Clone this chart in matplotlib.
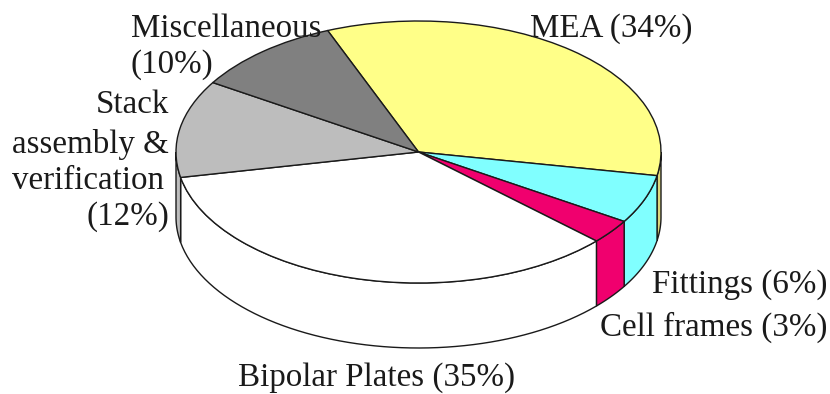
#!/usr/bin/env python3
"""Fuel cell stack cost breakdown, drawn as a tilted 3D pie."""

import matplotlib
matplotlib.use("Agg")
import matplotlib.pyplot as plt
import numpy as np

plt.rcParams["font.family"] = ["Liberation Serif", "DejaVu Serif"]

slices = ["MEA", "Fittings", "Cell frames", "Bipolar Plates", "Stack", "Miscellaneous"]
shares = [34, 6, 3, 35, 12, 10]
top_colors = ["#FFFF88", "#80FFFF", "#F0006E", "#FFFFFF", "#BDBDBD", "#808080"]
wall_colors = ["#DDD77C", "#80FFFF", "#F0006E", "#FFFFFF", "#BDBDBD", "#808080"]

W, H = 830, 394
CX, CY = 418.5, 152
RX, RY = 242.5, 131
DEPTH = 65 / RY
START = 112.0

fig = plt.figure(figsize=(W / 100, H / 100), dpi=100)
ax = fig.add_axes([0, 0, 1, 1])

# side walls first, only the part of each slice on the front half shows
ends = START - np.cumsum(shares) * 3.6
starts = np.r_[START, ends[:-1]]
for a0, a1, c in zip(starts, ends, wall_colors):
    hi = min(a0, 0) if a0 > -180 else a0
    lo = max(a1, -180)
    if hi <= lo:
        continue
    t = np.radians(np.linspace(hi, lo, 60))
    x = np.cos(t)
    y = np.sin(t)
    ax.fill(np.r_[x, x[::-1]], np.r_[y, y[::-1] - DEPTH],
            facecolor=c, edgecolor="#1a1a1a", linewidth=1.0, zorder=1)

ax.pie(shares, colors=top_colors, startangle=START, counterclock=False, radius=1,
       wedgeprops={"edgecolor": "#1a1a1a", "linewidth": 1.0, "zorder": 2})

ax.set_aspect("auto")
ax.set_xlim(-CX / RX, (W - CX) / RX)
ax.set_ylim((CY - H) / RY, CY / RY)
ax.axis("off")

labels = [
    ("MEA (34%)", 530, 29, "left"),
    ("Miscellaneous", 131, 29, "left"),
    ("(10%)", 131, 65, "left"),
    ("Stack", 169, 105, "right"),
    ("assembly &", 169, 144, "right"),
    ("verification", 164, 181, "right"),
    ("(12%)", 169, 217, "right"),
    ("Fittings (6%)", 827, 285, "right"),
    ("Cell frames (3%)", 827, 327, "right"),
    ("Bipolar Plates (35%)", 377, 378, "center"),
]
for text, px, py, ha in labels:
    fig.text(px / W, 1 - py / H, text, ha=ha, va="center", fontsize=23.8, color="#1a1a1a")

fig.savefig("out.png", dpi=100)
plt.close(fig)
